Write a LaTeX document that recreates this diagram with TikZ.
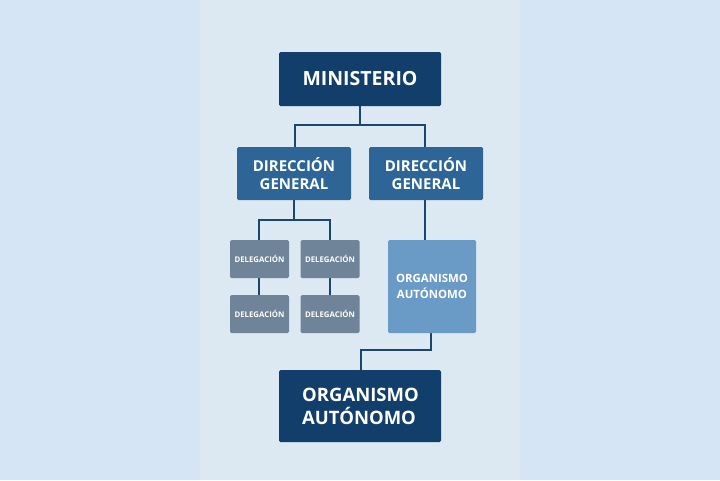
\documentclass[tikz,border=0pt]{standalone}
\usepackage{fontspec}
\setmainfont{Open Sans}
\begin{document}
\begin{tikzpicture}[x=1pt,y=-1pt,
  box/.style={rounded corners=1.5pt,text=white,font=\bfseries,align=center,inner sep=0pt},
  ln/.style={draw=lnc,line width=2.8pt}]
\definecolor{bgo}{HTML}{D5E5F5}\definecolor{bgi}{HTML}{DDE9F2}
\definecolor{cmin}{HTML}{113E6B}\definecolor{cdg}{HTML}{2D6596}
\definecolor{cdel}{HTML}{6F8399}\definecolor{corg}{HTML}{6A9BC7}
\definecolor{lnc}{HTML}{1B4670}
\useasboundingbox (0,0) rectangle (720,480);
\fill[bgo] (0,0) rectangle (720,480);
\fill[bgi] (200,0) rectangle (520,480);
% connectors
\draw[ln] (360,106) -- (360,125) (295,125) -- (425,125) (295,124) -- (295,147) (425,124) -- (425,147);
\draw[ln] (294,200) -- (294,220) (259,220) -- (330,220) (259,219) -- (259,240) (330,219) -- (330,240);
\draw[ln] (259,278) -- (259,295) (330,278) -- (330,295);
\draw[ln] (425,200) -- (425,240);
\draw[ln] (431,333) -- (431,350) (361,350) -- (432,350) (361,349) -- (361,370);
% boxes
\node[box,fill=cmin,minimum width=162pt,minimum height=54pt,font=\bfseries\fontsize{19.5}{22}\selectfont] (min) at (360,79) {MINISTERIO};
\node[box,fill=cdg,minimum width=114pt,minimum height=53pt,font=\bfseries\fontsize{15}{18}\selectfont] (dg1) at (294,173.5) {DIRECCIÓN\\GENERAL};
\node[box,fill=cdg,minimum width=114pt,minimum height=53pt,font=\bfseries\fontsize{15}{18}\selectfont] (dg2) at (426,173.5) {DIRECCIÓN\\GENERAL};
\foreach \n/\x/\y in {d1/259.5/259,d2/330/259,d3/259.5/314,d4/330/314}
  \node[box,fill=cdel,minimum width=59pt,minimum height=38pt,font=\bfseries\fontsize{7.8}{9}\selectfont] (\n) at (\x,\y) {DELEGACIÓN};
\node[box,fill=corg,minimum width=88pt,minimum height=93pt,font=\bfseries\fontsize{11.4}{16}\selectfont] (org) at (432,286.5) {ORGANISMO\\AUTÓNOMO};
\node[box,fill=cmin,minimum width=162pt,minimum height=72pt] (org2) at (360,406) {};
\node[text=white,font=\bfseries\fontsize{18.5}{23}\selectfont,align=left,anchor=west,inner sep=0pt] (t) at (302,406) {ORGANISMO\\AUTÓNOMO};
\end{tikzpicture}
\end{document}
